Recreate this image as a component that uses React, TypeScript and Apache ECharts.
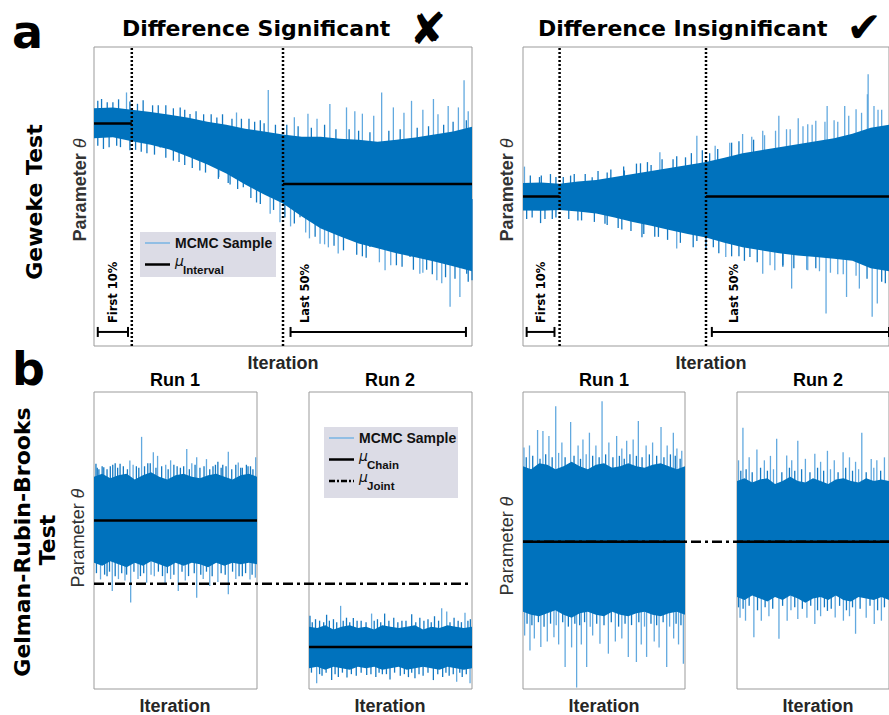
import React, { useEffect, useRef } from "react";
import * as echarts from "echarts";

// ---------- data ----------
// iteration positions (% of chain) at which the dense core envelope was read
const ITER = [0, 5, 10, 15, 20, 25, 30, 35, 40, 45, 50, 55, 60, 65, 70, 75, 80, 85, 90, 95, 100];

// Panel a, "Difference Significant" (Geweke)
const sigTop = [79.5, 79.8, 79.0, 78.3, 77.3, 76.3, 75.0, 74.0, 72.7, 71.7, 70.7, 70.0, 70.0, 69.3, 69.0, 68.3, 69.0, 69.7, 70.7, 71.7, 73.3];
const sigBot = [69.5, 69.8, 68.5, 67.3, 65.7, 63.3, 60.7, 57.7, 54.0, 50.7, 47.7, 43.3, 39.3, 36.7, 34.3, 32.7, 31.0, 29.7, 28.3, 26.7, 25.0];
const sigUp = [[2, 82.6], [5, 81.5], [8.6, 84.8], [13, 82.2], [17, 80.5], [22.8, 79.8], [25.4, 77.6], [29, 77.5], [32.5, 76.4], [37.7, 78.1], [41, 76], [44, 75.5], [46.1, 85.6], [53, 76.5], [56.6, 77.7], [59, 76], [62.4, 80.9], [66.8, 79.8], [69, 78.5], [71, 77.7], [74, 77], [76.1, 84.8], [79.2, 79.8], [82, 78], [84, 82], [87, 79], [89.8, 82.6], [91, 77.5], [93.7, 80.3], [96.4, 79.8], [97.9, 88.9], [99, 78.5],
  [1, 82], [3.5, 81.5], [6.5, 82.5], [9.5, 81.8], [11.5, 81], [15.5, 80.5], [19, 80.5], [21, 79.5], [24, 79], [27, 78.5], [31, 77.5], [34, 77.5], [36.5, 76], [39, 76], [42.5, 75], [45, 74.5], [48, 74], [51, 74], [54, 73.5], [57.5, 73], [61, 74], [64, 72.5], [67.5, 72.5], [70, 72], [73, 71.5], [78, 72], [81, 72.5], [85.5, 73], [88.5, 73.5], [92.5, 74], [95, 75], [98.5, 75.5]];
const sigDown = [[2.5, 65.9], [6, 67], [11, 65.6], [14, 64.5], [17.5, 66.4], [21, 62], [24, 60.5], [28, 58.7], [32.9, 55.9], [36, 54], [39.5, 53.1], [43, 48], [46.6, 44.2], [49.2, 41.4], [52, 40], [54.5, 43.1], [57, 36], [59.8, 34.2], [62, 33], [64.6, 30.9], [68.6, 35.3], [71, 30], [73, 33.1], [77, 25.3], [80, 27], [83.6, 29.8], [86.2, 24.2], [88, 25.5], [90.7, 22], [92, 21], [94.2, 13.1], [96.8, 16.4], [98.6, 24.2], [100, 22],
  [1, 67], [4, 66.5], [7, 66.5], [9.5, 65.5], [12.5, 65], [16, 64], [19, 63], [22.5, 61.5], [26, 59.5], [29.5, 58], [33, 56.5], [35.5, 54.5], [38, 52.5], [41.5, 49.5], [44, 47.5], [47.5, 45.5], [50.5, 43], [53, 41], [56, 38], [58.5, 36.5], [61, 34], [63.5, 33.5], [66, 32], [69.5, 30.5], [72, 29.5], [75.5, 28], [78.5, 27], [81.5, 26.5], [84.5, 25.5], [87, 24.5], [89.5, 24], [93, 23], [95.5, 22.5], [99, 21.5]];
const sigMeanFirst = 74.4;
const sigMeanLast = 54.2;

// Panel a, "Difference Insignificant" (Geweke)
const insTop = [54.5, 54.7, 54.3, 55.0, 55.5, 56.5, 57.5, 58.5, 59.5, 60.5, 61.5, 63.0, 64.5, 65.5, 66.5, 67.5, 68.5, 69.5, 71.0, 73.0, 74.0];
const insBot = [45.3, 45.2, 45.5, 45.0, 44.3, 43.0, 41.5, 40.2, 38.8, 37.5, 36.3, 34.5, 33.0, 32.0, 31.0, 30.3, 29.8, 29.2, 28.5, 26.0, 25.0];
const insUp = [[0.4, 60], [5, 57], [9, 56.5], [13, 57], [18.9, 56.4], [23, 58], [27.7, 58.7], [32.1, 61.1], [35, 60.5], [37.4, 64.8], [41, 62.5], [44.4, 63.1], [47.5, 70.3], [51, 64.5], [53.2, 65.9], [57, 68], [60, 70.9], [63, 69], [65.5, 72], [69.9, 77], [72, 72.5], [75.2, 76.2], [77.8, 74.2], [80, 75.3], [83.1, 80.3], [86, 75], [87.9, 80.3], [91, 79.2], [94.1, 84.2], [94.3, 90.9], [95.9, 80.3], [98, 79],
  [2, 57], [4.5, 56.5], [7.5, 57.5], [11, 56.5], [14, 57.5], [17, 57.5], [20.5, 58.5], [24, 59], [27.5, 60], [31, 61], [34, 61.5], [38, 62.5], [42, 63.5], [46, 64.5], [49, 65.5], [52.5, 67], [56.5, 68], [59, 68.5], [62.5, 70], [66, 70.5], [69, 72], [73, 72.5], [76.5, 73.5], [79, 74], [82.5, 75], [85, 75.5], [89, 77], [92.5, 78], [97, 79]];
const insDown = [[1, 42.5], [4.8, 41.1], [8, 42.5], [15, 42], [22.4, 40.9], [27, 39], [32.5, 36.4], [37, 36.5], [42, 32.6], [47.5, 35.1], [52, 33], [55.4, 29.8], [59, 30], [62, 29.8], [65.5, 24.2], [68.8, 25.3], [71, 27], [73.4, 19.2], [77.8, 25.3], [80, 26], [82.8, 10.9], [86, 24], [88.4, 16.4], [91.9, 19.2], [95.4, 9.8], [96.8, 14.2], [99, 21],
  [2.5, 43], [6, 42.5], [9, 43], [12.5, 42.5], [16, 42], [19.5, 41.5], [23, 40.5], [26, 39.5], [29.5, 38.5], [33, 37.5], [36, 36.5], [39.5, 35.5], [43, 34.5], [46.5, 33], [50, 32.5], [53.5, 31], [57, 30], [60.5, 28.5], [64, 28], [67.5, 27], [71, 26.5], [74, 26], [77.5, 25.5], [81, 25], [84, 24.5], [87.5, 24], [91, 23.5], [94, 22.5], [98, 21.5]];
const insMean = 50;

// Panel b, "Difference Significant" (Gelman-Rubin-Brooks)
const s1Top = [71.5, 72.5, 71, 72, 72.5, 70.5, 72, 73, 71.5, 70.5, 72, 72.5, 71.5, 71, 72, 72.5, 71.5, 70.5, 72, 72.5, 71.5];
const s1Bot = [42.5, 41.5, 43, 42, 41, 42.5, 41.5, 43, 42, 41, 42.5, 41.5, 42.5, 42, 41, 42.5, 41.5, 42.5, 42, 42.5, 42];
const s1Up = [[1.2, 75.8], [3, 74], [6, 74.7], [10, 75], [13, 76], [16, 75.8], [22, 76.9], [26, 75], [29.2, 84.9], [33, 76], [36.4, 79.7], [39, 78.5], [44, 75.5], [47, 77], [51, 75], [56.9, 80.8], [60, 76], [63, 78], [69, 77.4], [73, 75], [76, 76.5], [79, 75.5], [82.4, 79.9], [88.5, 76.3], [91, 74.5], [93.5, 75.5], [96, 75], [99.2, 78],
  [2, 74.5], [5, 75], [8, 74], [11.5, 75.5], [14.5, 74.5], [18, 75], [20.5, 74], [24, 75.5], [27.5, 74.5], [31, 75], [34.5, 76], [38, 74.5], [41.5, 75], [45.5, 74], [49, 75.5], [53, 74.5], [55, 75], [58.5, 74], [62, 75.5], [65, 74.5], [67.5, 75], [71, 74], [74.5, 75.5], [78, 74.5], [81, 75], [84.5, 74], [87, 75.5], [90, 74.5], [94.5, 75], [97.5, 74]];
const s1Down = [[4, 36.9], [8, 38], [11.2, 33], [15, 37], [19, 36.5], [22.5, 29.1], [27, 37], [32.3, 35.8], [37, 38], [43.6, 35.2], [47, 37], [51.7, 33], [56, 36.5], [63, 30.7], [67, 37], [71, 34.7], [76, 36], [82.4, 31.9], [87, 37], [91, 38], [95.7, 36.9], [99, 37.5],
  [1.5, 39], [6.5, 38.5], [9.5, 39.5], [13, 38], [17, 39], [20, 38.5], [24.5, 39.5], [28.5, 38], [30.5, 39], [35, 38.5], [39.5, 39.5], [42, 38], [45, 39], [49, 38.5], [54, 39.5], [58, 38], [61.5, 39], [65.5, 38.5], [69, 39.5], [72.5, 38], [78, 39], [80.5, 38.5], [85, 39.5], [89, 38], [93, 39], [97, 38.5]];
const s2Top = [21, 20.5, 21.5, 20, 21, 21.5, 20.5, 21, 20, 21.5, 21, 20.5, 21, 21.5, 20, 21, 20.5, 21.5, 21, 20.5, 21];
const s2Bot = [7, 7.5, 6.5, 7.5, 7, 6.5, 7.5, 7, 7.5, 6.5, 7, 7.5, 6.5, 7, 7.5, 7, 6.5, 7.5, 7, 6.5, 7];
const s2Up = [[0.6, 24.7], [4, 23.5], [10.8, 25], [15, 23.5], [19.4, 28], [23, 24], [27.2, 23.9], [32, 23], [38.4, 25.4], [42, 23.5], [46.4, 25.4], [52, 24], [57, 23], [63, 25.2], [68, 24], [73, 23.5], [77, 24.5], [81.4, 27.2], [84.5, 26.1], [89, 24], [95.7, 25.7], [99, 23.5],
  [2, 22.5], [6.5, 23], [9, 22.5], [12.5, 23], [17, 22.5], [21, 23], [25, 22.5], [29.5, 23], [35, 22.5], [40, 23], [44, 22.5], [49, 23], [54.5, 22.5], [59.5, 23], [65.5, 22.5], [70.5, 23], [75, 22.5], [79.5, 23], [86.5, 22.5], [91.5, 23], [93.5, 22.5], [97.5, 23]];
const s2Down = [[4.7, 1.9], [8, 4.5], [13.9, 3], [18, 4], [23.3, 3.9], [29, 4.5], [35.4, 4.7], [41, 4], [45, 5], [49.7, 3.2], [56, 4.5], [61, 4], [65, 3.6], [70, 4.5], [76.3, 3], [82, 4], [86, 4.5], [90.6, 2.4], [94, 4], [98.8, 1.9],
  [1.5, 5.5], [6.5, 5], [10.5, 5.5], [16, 5], [20.5, 5.5], [26, 5], [32, 5.5], [38, 5], [43, 5.5], [47.5, 5], [52.5, 5.5], [58.5, 5], [63, 5.5], [67.5, 5], [73, 5.5], [79, 5], [84, 5.5], [88.5, 5], [92.5, 5.5], [96.5, 5]];
const sMean1 = 56.7;
const sMean2 = 14.1;
const sJoint = 35.4;

// Panel b, "Difference Insignificant" (Gelman-Rubin-Brooks)
const i1Top = [75, 74, 76, 75.5, 74, 75, 76.5, 75, 74, 75.5, 76, 74.5, 75, 76, 75, 74.5, 75.5, 76, 75, 74, 75];
const i1Bot = [26, 25, 24.5, 25.5, 26.5, 25, 24, 25.5, 26, 25, 24.5, 26, 25, 24.5, 25.5, 26, 25, 24.5, 25.5, 26, 25];
const i1Up = [[0.6, 81.3], [4, 82], [9, 87.2], [12.3, 86.9], [16, 85.2], [20.2, 95.2], [24, 83], [29.4, 89.9], [34, 82], [37, 84], [41, 86.3], [45, 82], [48.8, 96.9], [53, 83], [57.8, 85.2], [61, 81], [64, 83.6], [68, 84], [71.2, 90.2], [76, 82], [80, 83], [85.2, 88.2], [89, 82], [92.8, 86.3], [95, 81], [98, 80.2],
  [2, 78], [6, 78.5], [10.5, 77.5], [14, 79], [18, 78], [22, 79.5], [26, 78], [31.5, 78.5], [35.5, 77.5], [39, 79], [43, 78.5], [47, 78], [51, 79], [55.5, 78], [59.5, 78.5], [62.5, 77.5], [66, 79], [70, 78.5], [73.5, 78], [78, 79], [82.5, 78.5], [87, 78], [91, 79], [94, 78.5], [97, 77.5]];
const i1Down = [[1, 18], [4.3, 13], [7, 17], [11, 14.1], [15, 16], [19.1, 17.4], [22, 15], [26, 7.4], [30, 14], [33.1, 0.5], [36, 15], [39.3, 7.4], [43, 18], [47.5, 15.2], [52.7, 11.9], [57, 16], [61, 17], [65, 10.8], [70, 9.1], [73, 15], [76.3, 10.8], [81, 16], [84, 14], [88.7, 7.4], [93, 17], [96, 15], [99, 8.5],
  [2.5, 22], [5.5, 21.5], [9.5, 22.5], [13, 21], [17, 22], [20.5, 21.5], [24.5, 22.5], [28, 21], [32, 22], [35, 21.5], [38, 22.5], [41.5, 21], [45.5, 22], [50, 21.5], [54.5, 22.5], [59, 21], [63, 22], [67, 21.5], [71.5, 22.5], [75, 21], [79, 22], [82.5, 21.5], [86.5, 22.5], [90.5, 21], [94.5, 22], [97.5, 21.5]];
const i2Top = [70, 71, 69.5, 70.5, 71, 69, 70, 71.5, 70, 69.5, 71, 70, 69, 70.5, 71, 70, 69.5, 71, 70, 70.5, 70];
const i2Bot = [31, 30, 31.5, 30.5, 29.5, 31, 30, 31.5, 30.5, 29, 30.5, 31, 30, 31.5, 30, 29.5, 31, 30.5, 30, 31, 30];
const i2Up = [[1, 77], [3.9, 88], [8, 78], [13.1, 80.6], [18, 77], [22, 78.5], [26.1, 84.3], [32.7, 78.6], [36, 77], [40, 83.6], [45, 77.5], [51.2, 79.2], [55, 76.5], [59.5, 80.2], [64, 77], [69.8, 79.7], [74, 78], [78, 76.5], [82.1, 86.3], [88.3, 77.4], [92, 77], [97, 78],
  [2.5, 73.5], [6, 74], [10, 73], [15.5, 74.5], [20, 73.5], [24, 74], [29.5, 73], [34.5, 74.5], [38, 73.5], [42.5, 74], [48, 73], [53, 74.5], [57, 73.5], [61.5, 74], [66.5, 73], [71.5, 74.5], [76, 73.5], [80, 74], [85, 73], [90, 74.5], [94.5, 73.5]];
const i2Down = [[2, 24], [5.6, 23], [11.1, 17.4], [16, 23], [21, 24.5], [27.6, 16.9], [33, 23], [40, 23.6], [46, 24], [51.2, 21.9], [55, 24.5], [59.5, 26.3], [64.6, 24.1], [70, 23], [74, 24.5], [78, 18.6], [85, 24], [90.3, 21.9], [95, 23],
  [1, 27.5], [4, 27], [8, 28], [13.5, 26.5], [18.5, 27.5], [23.5, 27], [30, 28], [35.5, 26.5], [38, 27.5], [43, 27], [48.5, 28], [53, 26.5], [57.5, 27.5], [62, 27], [67.5, 28], [72, 26.5], [76, 27.5], [81, 27], [87.5, 28], [92.5, 26.5], [97, 27.5]];
const iMean = 49.6;

// Geweke windows (iteration %) and bracket extents
const firstWindowEnd = 10;
const lastWindowStart = 50;
const sigBrackets = [[1, 9, 4.7], [52, 98.4, 4.7]];
const insBrackets = [[1, 8.6, 4.7], [51.6, 100, 4.7]];

// ---------- helpers ----------
const CORE = "#0072BD";
const SPIKE_LIGHT = "#62a9df";
const SPIKE_DARK = "#1479c3";
const DASH_DOT = [10, 4, 3, 4];

function interp(xs: number[], ys: number[], x: number) {
  if (x <= xs[0]) return ys[0];
  for (let i = 1; i < xs.length; i++) {
    if (x <= xs[i]) {
      const t = (x - xs[i - 1]) / (xs[i] - xs[i - 1]);
      return ys[i - 1] + t * (ys[i] - ys[i - 1]);
    }
  }
  return ys[ys.length - 1];
}

function traceSeries(g: number, top: number[], bot: number[], up: number[][], down: number[][]) {
  const mid = (x: number) => (interp(ITER, top, x) + interp(ITER, bot, x)) / 2;
  const mk = (arr: number[][], edge: number[]) =>
    arr.map(([x, v]) => [x, v, mid(x), Math.abs(v - interp(ITER, edge, x)) < 4.5 ? 1 : 0]);
  const spikes = [...mk(up, top), ...mk(down, bot)];
  return [
    {
      type: "custom",
      xAxisIndex: g,
      yAxisIndex: g,
      z: 2,
      silent: true,
      data: spikes,
      renderItem: (_p: any, api: any) => {
        const a = api.coord([api.value(0), api.value(2)]);
        const b = api.coord([api.value(0), api.value(1)]);
        return {
          type: "line",
          shape: { x1: a[0], y1: a[1], x2: b[0], y2: b[1] },
          style: { stroke: api.value(3) ? SPIKE_DARK : SPIKE_LIGHT, lineWidth: 1.3 },
        };
      },
    },
    {
      type: "custom",
      xAxisIndex: g,
      yAxisIndex: g,
      z: 3,
      silent: true,
      data: [[0, 0]],
      renderItem: (_p: any, api: any) => {
        const pts: number[][] = [];
        ITER.forEach((x, i) => pts.push(api.coord([x, top[i]])));
        for (let i = ITER.length - 1; i >= 0; i--) pts.push(api.coord([ITER[i], bot[i]]));
        return { type: "polygon", shape: { points: pts }, style: { fill: CORE } };
      },
    },
  ];
}

function hLine(g: number, x0: number, x1: number, y: number, type: any, width = 2.5) {
  return {
    type: "line",
    xAxisIndex: g,
    yAxisIndex: g,
    z: 6,
    silent: true,
    symbol: "none",
    data: [[x0, y], [x1, y]],
    lineStyle: { color: "#000", width, type },
  };
}

function vDotted(g: number, x: number) {
  return {
    type: "line",
    xAxisIndex: g,
    yAxisIndex: g,
    z: 7,
    silent: true,
    symbol: "none",
    data: [[x, 0], [x, 100]],
    lineStyle: { color: "#000", width: 2.5, type: [2, 2] },
  };
}

function bracketSeries(g: number, data: number[][]) {
  return {
    type: "custom",
    xAxisIndex: g,
    yAxisIndex: g,
    z: 7,
    silent: true,
    data,
    renderItem: (_p: any, api: any) => {
      const a = api.coord([api.value(0), api.value(2)]);
      const b = api.coord([api.value(1), api.value(2)]);
      const st = { stroke: "#000", lineWidth: 2 };
      return {
        type: "group",
        children: [
          { type: "line", shape: { x1: a[0], y1: a[1], x2: b[0], y2: b[1] }, style: st },
          { type: "line", shape: { x1: a[0], y1: a[1] - 5, x2: a[0], y2: a[1] + 5 }, style: st },
          { type: "line", shape: { x1: b[0], y1: b[1] - 5, x2: b[0], y2: b[1] + 5 }, style: st },
        ],
      };
    },
  };
}

const BOLD_V = "DejaVu Sans";
const ARIAL = "Liberation Sans, Arial, sans-serif";

function txt(x: number, y: number, text: string, o: any = {}) {
  return {
    type: "text",
    x,
    y,
    rotation: o.rotation || 0,
    silent: true,
    z: 20,
    style: {
      text,
      fill: o.fill || "#000",
      fontFamily: o.family || ARIAL,
      fontSize: o.size || 16,
      fontWeight: o.weight || "normal",
      fontStyle: o.style || "normal",
      align: o.align || "center",
      verticalAlign: o.valign || "middle",
      rich: o.rich,
    },
  };
}

function paramLabel(x: number, y: number, weight: string) {
  return txt(x, y, "{a|Parameter }{b|θ}", {
    rotation: Math.PI / 2,
    rich: {
      a: { fontFamily: ARIAL, fontSize: 18, fontWeight: weight, fill: "#333" },
      b: { fontFamily: ARIAL, fontSize: 18, fontStyle: "italic", fill: "#333" },
    },
  });
}

function legendBox(x: number, y: number, w: number, h: number, items: { kind: string; sub?: string }[]) {
  const children: any[] = [
    { type: "rect", shape: { x, y, width: w, height: h }, style: { fill: "#dcdce6" }, z: 19, silent: true },
  ];
  items.forEach((it, i) => {
    const ly = y + 11 + i * 21.5;
    if (it.kind === "sample") {
      children.push({ type: "line", shape: { x1: x + 5, y1: ly, x2: x + 30, y2: ly }, style: { stroke: "#79b4e3", lineWidth: 1.5 }, z: 20, silent: true });
      children.push(txt(x + 35, ly, "MCMC Sample", { align: "left", size: 14, weight: "bold", fill: "#111" }));
    } else {
      const dash = it.kind === "joint" ? [6, 2, 2, 2] : null;
      children.push({ type: "line", shape: { x1: x + 5, y1: ly, x2: x + 30, y2: ly }, style: { stroke: "#000", lineWidth: 2.5, lineDash: dash }, z: 20, silent: true });
      children.push(txt(x + 35, ly - 4, "μ", { align: "left", size: 14, style: "italic", fill: "#111", family: "DejaVu Sans" }));
      children.push(txt(x + 43, ly + 5, it.sub || "", { align: "left", size: 11.5, weight: "bold", fill: "#111" }));
    }
  });
  return { type: "group", children };
}

export default function App() {
  const ref = useRef<HTMLDivElement>(null);
  useEffect(() => {
    if (!ref.current) return;
    const chart = echarts.init(ref.current, undefined, { renderer: "svg" });
    const border = { show: true, borderColor: "#9b9b9b", borderWidth: 1, backgroundColor: "transparent" };
    const grids = [
      { left: 94, top: 47, width: 378, height: 299, ...border },
      { left: 523, top: 47, width: 379, height: 299, ...border },
      { left: 94, top: 392, width: 163, height: 297, ...border },
      { left: 309, top: 392, width: 163, height: 297, ...border },
      { left: 523, top: 392, width: 162, height: 297, ...border },
      { left: 737, top: 392, width: 162, height: 297, ...border },
      { left: 94, top: 392, width: 378, height: 297, show: false },
      { left: 523, top: 392, width: 376, height: 297, show: false },
    ];
    const axes = grids.map((_, i) => ({ gridIndex: i, type: "value", min: 0, max: 100, show: false }));

    const series: any[] = [
      ...traceSeries(0, sigTop, sigBot, sigUp, sigDown),
      ...traceSeries(1, insTop, insBot, insUp, insDown),
      ...traceSeries(2, s1Top, s1Bot, s1Up, s1Down),
      ...traceSeries(3, s2Top, s2Bot, s2Up, s2Down),
      ...traceSeries(4, i1Top, i1Bot, i1Up, i1Down),
      ...traceSeries(5, i2Top, i2Bot, i2Up, i2Down),
      hLine(0, 0, firstWindowEnd, sigMeanFirst, "solid"),
      hLine(0, lastWindowStart, 100, sigMeanLast, "solid"),
      hLine(1, 0, firstWindowEnd, insMean, "solid"),
      hLine(1, lastWindowStart, 100, insMean, "solid"),
      vDotted(0, firstWindowEnd),
      vDotted(0, lastWindowStart),
      vDotted(1, firstWindowEnd),
      vDotted(1, lastWindowStart),
      bracketSeries(0, sigBrackets),
      bracketSeries(1, insBrackets),
      hLine(6, 0, 100, sJoint, DASH_DOT, 2.5),
      hLine(7, 0, 100, iMean, DASH_DOT, 2.5),
      hLine(2, 0, 100, sMean1, "solid"),
      hLine(3, 0, 100, sMean2, "solid"),
      hLine(4, 0, 100, iMean, "solid"),
      hLine(5, 0, 100, iMean, "solid"),
    ];

    const graphic: any[] = [
      txt(12, 32, "a", { family: BOLD_V, size: 46, weight: "bold", align: "left" }),
      txt(12, 369, "b", { family: BOLD_V, size: 46, weight: "bold", align: "left" }),
      txt(122, 28, "Difference Significant", { family: BOLD_V, size: 22, weight: "bold", align: "left" }),
      txt(428, 28, "✘", { family: BOLD_V, size: 44, weight: "bold" }),
      txt(538, 28, "Difference Insignificant", { family: BOLD_V, size: 22, weight: "bold", align: "left" }),
      txt(864, 27, "✔", { family: BOLD_V, size: 42, weight: "bold" }),
      txt(34, 202, "Geweke Test", { family: BOLD_V, size: 22, weight: "bold", rotation: Math.PI / 2 }),
      txt(22, 542, "Gelman-Rubin-Brooks", { family: BOLD_V, size: 22, weight: "bold", rotation: Math.PI / 2 }),
      txt(47, 540, "Test", { family: BOLD_V, size: 22, weight: "bold", rotation: Math.PI / 2 }),
      paramLabel(80, 190, "bold"),
      paramLabel(507, 190, "bold"),
      paramLabel(78, 538, "normal"),
      paramLabel(507, 546, "normal"),
      txt(283, 363, "Iteration", { size: 18, weight: "bold", fill: "#262626" }),
      txt(711, 363, "Iteration", { size: 18, weight: "bold", fill: "#262626" }),
      txt(175, 706, "Iteration", { size: 18, weight: "bold", fill: "#262626" }),
      txt(390, 706, "Iteration", { size: 18, weight: "bold", fill: "#262626" }),
      txt(604, 706, "Iteration", { size: 18, weight: "bold", fill: "#262626" }),
      txt(818, 706, "Iteration", { size: 18, weight: "bold", fill: "#262626" }),
      txt(175, 380, "Run 1", { size: 18, weight: "bold" }),
      txt(390, 380, "Run 2", { size: 18, weight: "bold" }),
      txt(604, 380, "Run 1", { size: 18, weight: "bold" }),
      txt(818, 380, "Run 2", { size: 18, weight: "bold" }),
      txt(113, 323, "First 10%", { family: BOLD_V, size: 11.5, weight: "bold", align: "left", rotation: Math.PI / 2 }),
      txt(305, 323, "Last 50%", { family: BOLD_V, size: 11.5, weight: "bold", align: "left", rotation: Math.PI / 2 }),
      txt(541, 323, "First 10%", { family: BOLD_V, size: 11.5, weight: "bold", align: "left", rotation: Math.PI / 2 }),
      txt(734, 323, "Last 50%", { family: BOLD_V, size: 11.5, weight: "bold", align: "left", rotation: Math.PI / 2 }),
      legendBox(140, 232, 136, 45, [{ kind: "sample" }, { kind: "mean", sub: "Interval" }]),
      legendBox(324, 427, 134, 71, [{ kind: "sample" }, { kind: "mean", sub: "Chain" }, { kind: "joint", sub: "Joint" }]),
    ];

    chart.setOption({
      animation: false,
      backgroundColor: "#fff",
      grid: grids,
      xAxis: axes,
      yAxis: axes,
      series,
      graphic,
    });
    return () => chart.dispose();
  }, []);
  return <div ref={ref} style={{ position: "fixed", left: 0, top: 0, width: 889, height: 715 }} />;
}
